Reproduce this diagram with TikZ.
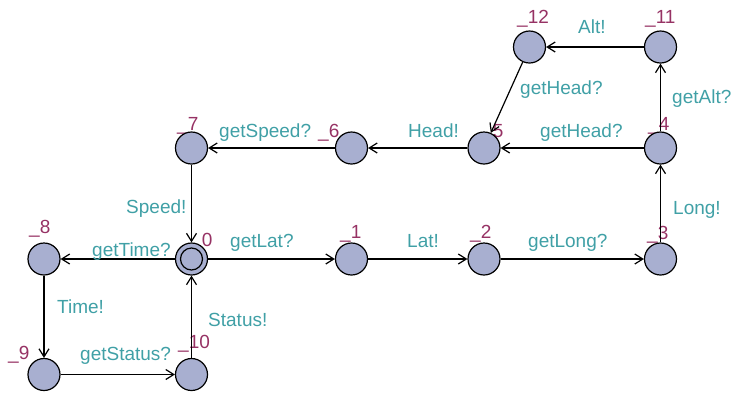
\documentclass[tikz,border=0pt]{standalone}
\usepackage{fontspec}
\setmainfont{Liberation Sans}
\usetikzlibrary{arrows.meta}
\definecolor{locfill}{RGB}{168,175,208}
\definecolor{namecol}{RGB}{150,50,100}
\definecolor{synccol}{RGB}{64,160,166}
\pgfdeclarelayer{bg}
\pgfsetlayers{bg,main}
\begin{document}
\begin{tikzpicture}[x=1pt,y=-1pt,
  loc/.style={circle,draw,line width=1.2pt,fill=locfill,minimum size=32pt,inner sep=0pt},
  edge/.style={line width=1.2pt,-{Straight Barb[length=8pt,width=10pt,line width=1.2pt]}},
  nm/.style={anchor=base west,inner sep=0pt,text=namecol,font=\fontsize{19}{22}\selectfont},
  sy/.style={anchor=base west,inner sep=0pt,text=synccol,font=\fontsize{19}{22}\selectfont}]
\useasboundingbox (0,0) rectangle (732,392);
% locations
\node[loc] (n12) at (529.5,47) {};
\node[loc] (n11) at (660.5,47) {};
\node[loc] (n7) at (191.5,148) {};
\node[loc] (n6) at (351.5,148) {};
\node[loc] (n5) at (484,148) {};
\node[loc] (n4) at (660.5,148) {};
\node[loc] (n8) at (44,259) {};
\node[loc] (n0) at (191.5,259) {};
\node[circle,draw,line width=1.2pt,minimum size=22pt,inner sep=0pt] (n0i) at (n0) {};
\node[loc] (n1) at (351.5,259) {};
\node[loc] (n2) at (484,259) {};
\node[loc] (n3) at (660.5,259) {};
\node[loc] (n9) at (44,374.5) {};
\node[loc] (n10) at (191.5,374.5) {};
% names
\begin{pgfonlayer}{bg}
\node[nm] (l12) at (517,23) {\_12};
\node[nm] (l11) at (645,23) {\_11};
\node[nm] (l7) at (177,130) {\_7};
\node[nm] (l6) at (318,137) {\_6};
\node[nm] (l5) at (482,137) {\_5};
\node[nm] (l4) at (648,130) {\_4};
\node[nm] (l8) at (29,233) {\_8};
\node[nm] (l0) at (191,246) {\_0};
\node[nm] (l1) at (340,238) {\_1};
\node[nm] (l2) at (470,238) {\_2};
\node[nm] (l3) at (647,239) {\_3};
\node[nm] (l9) at (8,359) {\_9};
\node[nm] (l10) at (178,348) {\_10};
\end{pgfonlayer}
% edges
\draw[edge] (n11) -- (n12);
\draw[edge] (n12) -- (n5);
\draw[edge] (n4) -- (n11);
\draw[edge] (n4) -- (n5);
\draw[edge] (n5) -- (n6);
\draw[edge] (n6) -- (n7);
\draw[edge] (n7) -- (n0);
\draw[edge] (n0) -- (n8);
\draw[edge] (n0) -- (n1);
\draw[edge] (n1) -- (n2);
\draw[edge] (n2) -- (n3);
\draw[edge] (n3) -- (n4);
\draw[edge] (n8) -- (n9);
\draw[edge] (n9) -- (n10);
\draw[edge] (n10) -- (n0);
% sync labels
\node[sy] (s1) at (578,33.5) {Alt!};
\node[sy] (s2) at (520,94) {getHead?};
\node[sy] (s3) at (672,103) {getAlt?};
\node[sy] (s4) at (540,137) {getHead?};
\node[sy] (s5) at (673,214) {Long!};
\node[sy] (s6) at (219,137) {getSpeed?};
\node[sy] (s7) at (408,137) {Head!};
\node[sy] (s8) at (126,213) {Speed!};
\node[sy] (s9) at (92,256) {getTime?};
\node[sy] (s10) at (230,247) {getLat?};
\node[sy] (s11) at (407,247) {Lat!};
\node[sy] (s12) at (528,247) {getLong?};
\node[sy] (s13) at (57,313) {Time!};
\node[sy] (s14) at (80,360) {getStatus?};
\node[sy] (s15) at (208,326) {Status!};
\end{tikzpicture}
\end{document}
